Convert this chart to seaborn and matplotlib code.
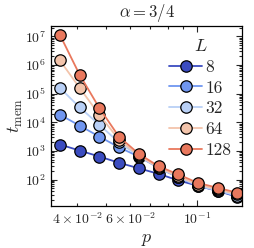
import numpy as np
import pandas as pd
import matplotlib
matplotlib.use("Agg")
import matplotlib.pyplot as plt
import seaborn as sns

# p values (log spaced in the picture)
p = [0.0351, 0.0408, 0.0474, 0.0551, 0.0641, 0.0745, 0.0866, 0.1007, 0.1171, 0.1361]

# memory time for each system size L
t_8 = [1690, 1040, 645, 390, 250, 160, 95, 61, 41, 25]
t_16 = [18600, 7700, 3200, 1350, 640, 260, 120, 61, 41, 27]
t_32 = [160000, 33500, 8300, 2000, 670, 265, 125, 63, 42, 28]
t_64 = [1450000, 160000, 18600, 2500, 700, 270, 130, 68, 46, 31]
t_128 = [11300000, 460000, 32000, 3150, 800, 296, 153, 77, 52, 35]

sizes = ["8", "16", "32", "64", "128"]
colors = ["#3b4cc0", "#7096f0", "#b9d0f6", "#f3c4ab", "#e9785d"]

rows = []
for L, t in zip(sizes, [t_8, t_16, t_32, t_64, t_128]):
    for pi, ti in zip(p, t):
        rows.append({"p": pi, "t": ti, "L": L})
df = pd.DataFrame(rows)

sns.set_style("ticks")
plt.rcParams["font.family"] = ["cmr10", "DejaVu Serif"]
plt.rcParams["mathtext.fontset"] = "cm"
plt.rcParams["axes.unicode_minus"] = False
plt.rcParams["axes.formatter.use_mathtext"] = True

fig = plt.figure(figsize=(2.54, 2.48), dpi=100)
ax = fig.add_axes([0.201, 0.169, 0.752, 0.728])

sns.lineplot(data=df, x="p", y="t", hue="L", hue_order=sizes,
             palette=colors, marker="o", markersize=8.2,
             markeredgecolor="k", markeredgewidth=0.9,
             linewidth=1.3, ax=ax)

ax.set_xscale("log")
ax.set_yscale("log")
ax.set_xlim(0.0328, 0.141)
ax.set_ylim(12, 2.4e7)

ax.tick_params(which="both", direction="in", top=True, right=True,
               labelsize=10, width=0.8)
ax.tick_params(which="major", length=4)
ax.tick_params(which="minor", length=2)
for s in ax.spines.values():
    s.set_linewidth(0.9)
    s.set_color("k")

ax.set_xlabel("$p$", fontsize=13)
ax.set_ylabel(r"$t_{\mathrm{mem}}$", fontsize=13, labelpad=0)
ax.set_title(r"$\alpha=3/4$", fontsize=12)

leg = ax.legend(title="$L$", frameon=False, fontsize=12.5, title_fontsize=13,
                loc="upper right", bbox_to_anchor=(1.0, 0.99),
                handlelength=1.9, handletextpad=0.2, labelspacing=0.32,
                borderaxespad=0.2)

fig.savefig("out.png", dpi=100)
